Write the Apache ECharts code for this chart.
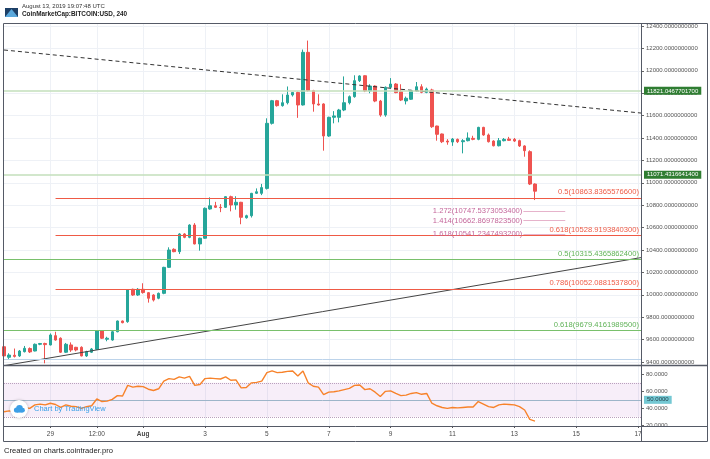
<!DOCTYPE html>
<html>
<head>
<meta charset="utf-8">
<title>CoinMarketCap:BITCOIN:USD, 240</title>
<script src="https://cdn.jsdelivr.net/npm/echarts@6/dist/echarts.min.js"></script>
<style>
html, body { margin: 0; padding: 0; background: #fff; }
#chart { width: 710px; height: 459px; }
</style>
</head>
<body>
<div id="chart"></div>
<script>
// 4h bars, first bar opens 2019-07-27 12:00 UTC
const firstBar = '2019-07-27 12:00';
const barHours = 4;

const open = [
  9536, 9442, 9460, 9454, 9492, 9520, 9498, 9558, 9565, 9552,
  9635, 9612, 9487, 9552, 9531, 9531, 9454, 9487, 9513, 9677,
  9603, 9596, 9670, 9766, 9760, 10049, 9998, 10049, 10019, 9998,
  9969, 10013, 10245, 10406, 10385, 10543, 10513, 10623, 10454, 10505,
  10766, 10795, 10781, 10781, 10876, 10802, 10826, 10688, 10706, 10906,
  10906, 10950, 11531, 11733, 11689, 11715, 11784, 11807, 11695, 12165,
  11823, 11704, 11704, 11418, 11585, 11585, 11650, 11715, 11769, 11912,
  11956, 11820, 11864, 11730, 11605, 11853, 11882, 11813, 11731, 11746,
  11823, 11858, 11808, 11829, 11507, 11436, 11373, 11364, 11388, 11367,
  11376, 11397, 11388, 11495, 11427, 11373, 11331, 11376, 11391, 11388,
  11376, 11329, 11278, 10989
];
const close = [
  9454, 9462, 9450, 9498, 9522, 9490, 9558, 9565, 9555, 9641,
  9596, 9487, 9558, 9507, 9507, 9454, 9492, 9516, 9677, 9612,
  9612, 9670, 9766, 9751, 10043, 9998, 10049, 10020, 9969, 9953,
  10013, 10245, 10400, 10385, 10543, 10513, 10623, 10454, 10505, 10772,
  10795, 10781, 10778, 10876, 10802, 10826, 10692, 10706, 10906, 10920,
  10957, 11531, 11733, 11689, 11715, 11784, 11807, 11695, 12165, 11823,
  11704, 11695, 11418, 11585, 11597, 11650, 11715, 11769, 11912, 11954,
  11820, 11864, 11730, 11605, 11853, 11882, 11805, 11739, 11755, 11823,
  11858, 11808, 11837, 11501, 11433, 11367, 11364, 11391, 11367, 11376,
  11400, 11388, 11495, 11427, 11367, 11331, 11376, 11388, 11379, 11373,
  11329, 11287, 10989, 10925
];
const low = [
  9440, 9427, 9440, 9445, 9485, 9480, 9495, 9550, 9388, 9548,
  9590, 9480, 9480, 9490, 9495, 9450, 9445, 9480, 9510, 9605,
  9585, 9590, 9665, 9745, 9750, 9990, 9990, 10010, 9930, 9940,
  9960, 10005, 10240, 10380, 10364, 10505, 10505, 10450, 10394, 10500,
  10760, 10775, 10738, 10775, 10745, 10760, 10630, 10680, 10690, 10900,
  10890, 10940, 11520, 11680, 11680, 11700, 11770, 11580, 11690, 11815,
  11635, 11690, 11287, 11410, 11531, 11540, 11640, 11700, 11760, 11900,
  11810, 11800, 11720, 11590, 11590, 11845, 11800, 11730, 11700, 11740,
  11815, 11800, 11800, 11490, 11376, 11355, 11340, 11330, 11355, 11263,
  11370, 11380, 11380, 11420, 11360, 11325, 11325, 11370, 11375, 11365,
  11320, 11233, 10980, 10846
];
const high = [
  9545, 9478, 9520, 9507, 9543, 9530, 9565, 9570, 9572, 9655,
  9670, 9620, 9570, 9575, 9535, 9540, 9500, 9525, 9680, 9680,
  9625, 9680, 9770, 9770, 10050, 10055, 10060, 10103, 10025, 10005,
  10020, 10250, 10424, 10415, 10550, 10550, 10630, 10640, 10510, 10780,
  10870, 10830, 10810, 10880, 10885, 10880, 10830, 10715, 10910, 10950,
  10990, 11576, 11740, 11740, 11790, 11860, 11810, 11815, 12190, 12270,
  11830, 11790, 11710, 11590, 11640, 11660, 11950, 11780, 11960, 11960,
  11960, 11880, 11870, 11740, 11860, 11935, 11890, 11880, 11770, 11830,
  11900, 11880, 11850, 11840, 11510, 11440, 11390, 11400, 11395, 11390,
  11450, 11420, 11500, 11500, 11440, 11380, 11400, 11400, 11410, 11400,
  11385, 11335, 11290, 10995
];
const rsi = [
  36, 37, 36, 39, 41, 40, 44, 45, 44, 46,
  44.5, 41, 44, 42.5, 42, 40, 42, 43, 51, 48,
  48.5, 50.5, 55, 54.5, 67, 65, 66, 65.5, 62.5, 61,
  63, 72, 75, 74, 77, 75.5, 77.5, 67, 68, 75,
  75.5, 75, 74.5, 77, 73, 73.5, 64, 64.5, 70, 70.5,
  72, 82, 84, 82, 82.5, 83.5, 84, 78, 84, 70,
  66, 65, 56, 59, 59.5, 60.5, 62, 63.5, 67, 67.5,
  62, 63, 59, 54, 60, 60.5, 57.5, 55, 55.5, 57.5,
  58.5, 56.5, 57.5, 46, 43, 41, 40, 41, 40.5, 41,
  41.5, 41.5, 48, 45, 42, 41, 44, 45, 44.5, 44,
  42, 38, 27, 25
];

const xTicks = ['2019-07-29 00:00', '2019-07-30 12:00', '2019-08-01 00:00', '2019-08-03 00:00',
  '2019-08-05 00:00', '2019-08-07 00:00', '2019-08-09 00:00', '2019-08-11 00:00',
  '2019-08-13 00:00', '2019-08-15 00:00', '2019-08-17 00:00'];
const xTickLabels = ['29', '12:00', 'Aug', '3', '5', '7', '9', '11', '13', '15', '17'];
const xStart = '2019-07-27 12:00';
const xEnd = '2019-08-17 02:17';
const priceTicks = [9400, 9600, 9800, 10000, 10200, 10400, 10600, 10800, 11000, 11200, 11400, 11600, 11800, 12000, 12200, 12400];
const rsiTicks = [20, 40, 60, 80];

// drawn levels
const fibRedRatio = ['0.5', '0.618', '0.786'];
const fibRedPrice = [10863.83655766, 10528.91938403, 10052.08815378];
const fibRedFrom = '2019-07-29 04:00';
const fibGreenRatio = ['0.5', '0.618'];
const fibGreenPrice = [10315.43658624, 9679.41619895];
const extRatio = ['1.272', '1.414', '1.618'];
const extPrice = [10747.53730534, 10662.86978235, 10541.23474932];
const extFrom = '2019-08-13 07:00';
const extTo = '2019-08-14 15:30';
const levelPrice = [11821.04677017, 11071.43166414];
const lastPrice = 10924.521325;
const baseLine = 9422;
const dashedTrend = [[xStart, 12186], [xEnd, 11623]];
const supportTrend = [[xStart, 9367], [xEnd, 10332]];

function ts(s) {
  const [d, t] = s.split(' ');
  const [Y, M, D] = d.split('-').map(Number);
  const [h, m] = t.split(':').map(Number);
  return Date.UTC(Y, M - 1, D, h, m);
}

const t0 = ts(firstBar);
const barTime = open.map((_, i) => t0 + i * barHours * 3600e3);
const candles = open.map((o, i) => [barTime[i], o, close[i], low[i], high[i]]);
const rsiData = rsi.map((v, i) => [barTime[i], v]);
const xTickVals = xTicks.map(ts);
const font = 'Liberation Sans, Arial, sans-serif';
const red = '#ef5a45';
const green = '#5fb257';
const pink = '#c4679b';

const priceLines = [];
fibRedPrice.forEach((p, i) => {
  priceLines.push([
    { coord: [ts(fibRedFrom), p], lineStyle: { color: red, width: 1.2, type: 'solid' },
      label: { show: true, position: 'insideEndTop', distance: 2, color: red, fontSize: 7.6, fontFamily: font,
        formatter: fibRedRatio[i] + '(' + p.toFixed(10) + ')' } },
    { coord: [ts(xEnd), p] }
  ]);
});
fibGreenPrice.forEach((p, i) => {
  priceLines.push({ yAxis: p, lineStyle: { color: '#79c06c', width: 1.2, type: 'solid' },
    label: { show: true, position: 'insideEndTop', distance: 2, color: green, fontSize: 7.6, fontFamily: font,
      formatter: fibGreenRatio[i] + '(' + p.toFixed(10) + ')' } });
});
extPrice.forEach((p, i) => {
  priceLines.push([
    { coord: [ts(extFrom), p], lineStyle: { color: '#e6b3cb', width: 1, type: 'solid' },
      label: { show: true, position: 'start', distance: 1, color: pink, fontSize: 7.6, fontFamily: font,
        formatter: extRatio[i] + '(' + p.toFixed(10) + ')' } },
    { coord: [ts(extTo), p] }
  ]);
});
levelPrice.forEach(p => {
  priceLines.push({ yAxis: p, lineStyle: { color: '#c3dfbb', width: 1.5, type: 'solid' },
    label: { show: true, position: 'end', distance: 3, color: '#fff', backgroundColor: '#2f7d32',
      padding: [1, 3, 1, 3], fontSize: 6, fontFamily: font, formatter: p.toFixed(10) } });
});
priceLines.push({ yAxis: lastPrice, lineStyle: { opacity: 0 },
  label: { show: true, position: 'end', distance: 3, color: '#fff', backgroundColor: '#f05a56',
    padding: [1, 3, 1, 3], fontSize: 6, fontFamily: font, formatter: lastPrice.toFixed(10) } });
priceLines.push({ yAxis: baseLine, lineStyle: { color: '#bcd3ea', width: 1, type: 'solid' }, label: { show: false } });

const xBase = {
  type: 'value', min: ts(xStart), max: ts(xEnd),
  axisLine: { show: false },
  axisTick: { show: false, customValues: xTickVals },
  splitLine: { show: true, lineStyle: { color: '#eef1f6', width: 1 } }
};

const chart = echarts.init(document.getElementById('chart'));
chart.setOption({
  animation: false,
  backgroundColor: '#fff',
  textStyle: { fontFamily: font },
  grid: [
    { left: 4, top: 23, width: 637, height: 342 },
    { left: 4, top: 366, width: 637, height: 60 }
  ],
  xAxis: [
    Object.assign({}, xBase, { gridIndex: 0, axisLabel: { show: false, customValues: xTickVals } }),
    Object.assign({}, xBase, {
      gridIndex: 1,
      axisTick: { show: true, length: 2, customValues: xTickVals, lineStyle: { color: '#555' } },
      axisLabel: {
        show: true, customValues: xTickVals, margin: 5, fontSize: 6.5, color: '#4a4a4a',
        formatter: v => {
          const k = xTickVals.indexOf(v);
          const s = k < 0 ? '' : xTickLabels[k];
          return s === 'Aug' ? '{b|Aug}' : s;
        },
        rich: { b: { fontWeight: 'bold', fontSize: 6.5, color: '#4a4a4a' } }
      }
    })
  ],
  yAxis: [
    {
      type: 'value', gridIndex: 0, position: 'right', min: 9373, max: 12427,
      axisLine: { show: false },
      axisTick: { show: true, length: 3, customValues: priceTicks, lineStyle: { color: '#666' } },
      axisLabel: { customValues: priceTicks, margin: 5, fontSize: 6, color: '#555', formatter: v => v.toFixed(10) },
      splitLine: { show: true, lineStyle: { color: '#eef1f6' } }
    },
    {
      type: 'value', gridIndex: 1, position: 'right', min: 19.2, max: 89.8,
      axisLine: { show: false },
      axisTick: { show: true, length: 3, customValues: rsiTicks, lineStyle: { color: '#666' } },
      axisLabel: { customValues: rsiTicks, margin: 5, fontSize: 6, color: '#555', formatter: v => v.toFixed(4) },
      splitLine: { show: false }
    }
  ],
  series: [
    {
      type: 'candlestick', xAxisIndex: 0, yAxisIndex: 0, data: candles,
      encode: { x: 0, y: [1, 2, 3, 4] }, barWidth: 3,
      itemStyle: { color: '#26a69a', color0: '#ef5350', borderColor: '#26a69a', borderColor0: '#ef5350', borderWidth: 1 },
      markLine: { silent: true, symbol: 'none', animation: false, data: priceLines }
    },
    {
      type: 'line', xAxisIndex: 0, yAxisIndex: 0, silent: true, symbol: 'none',
      data: dashedTrend.map(d => [ts(d[0]), d[1]]),
      lineStyle: { color: '#333', width: 1, type: [4, 3] }
    },
    {
      type: 'line', xAxisIndex: 0, yAxisIndex: 0, silent: true, symbol: 'none',
      data: supportTrend.map(d => [ts(d[0]), d[1]]),
      lineStyle: { color: '#444', width: 1 }
    },
    {
      type: 'line', xAxisIndex: 1, yAxisIndex: 1, silent: true, symbol: 'none',
      data: rsiData, lineStyle: { color: '#f7822a', width: 1.4 }, z: 5,
      markArea: { silent: true, itemStyle: { color: 'rgba(156, 39, 176, 0.08)' }, data: [[{ yAxis: 30 }, { yAxis: 70 }]] },
      markLine: {
        silent: true, symbol: 'none', animation: false,
        data: [
          { yAxis: 70, lineStyle: { color: '#b9a0bd', type: 'dotted', width: 1 }, label: { show: false } },
          { yAxis: 30, lineStyle: { color: '#b9a0bd', type: 'dotted', width: 1 }, label: { show: false } },
          { yAxis: 50, lineStyle: { color: '#9db5c9', type: 'solid', width: 1 },
            label: { show: true, position: 'end', distance: 3, color: '#1d3a44', backgroundColor: '#74c8d3',
              padding: [1, 3, 1, 3], fontSize: 6, fontFamily: font, formatter: '50.0000' } }
        ]
      }
    }
  ],
  graphic: [
    { type: 'rect', silent: true, z: 50, shape: { x: 3.5, y: 23.5, width: 704, height: 418 }, style: { fill: null, stroke: '#555a66', lineWidth: 1 } },
    { type: 'line', silent: true, z: 50, shape: { x1: 641.5, y1: 23, x2: 641.5, y2: 442 }, style: { stroke: '#555a66', lineWidth: 1 } },
    { type: 'line', silent: true, z: 50, shape: { x1: 3, y1: 365.5, x2: 708, y2: 365.5 }, style: { stroke: '#555a66', lineWidth: 1.5 } },
    { type: 'line', silent: true, z: 50, shape: { x1: 3, y1: 426.5, x2: 708, y2: 426.5 }, style: { stroke: '#555a66', lineWidth: 1 } },
    // header logo and titles
    { type: 'rect', silent: true, shape: { x: 5, y: 8, width: 13, height: 9 }, style: { fill: '#1d3f66' } },
    { type: 'polygon', silent: true, shape: { points: [[5, 17], [11.5, 9], [18, 17]] }, style: { fill: '#5aa8dc' } },
    { type: 'text', silent: true, left: 22, top: 3, style: { text: 'August 13, 2019 19:07:48 UTC', fontSize: 6, fill: '#333', fontFamily: font } },
    { type: 'text', silent: true, left: 22, top: 11, style: { text: 'CoinMarketCap:BITCOIN:USD, 240', fontSize: 6.4, fontWeight: 'bold', fill: '#222', fontFamily: font } },
    // footer
    { type: 'text', silent: true, left: 4, top: 447, style: { text: 'Created on charts.cointrader.pro', fontSize: 7.6, fill: '#222', fontFamily: font } },
    // watermark
    { type: 'circle', silent: true, z: 60, shape: { cx: 19, cy: 409, r: 9 }, style: { fill: '#fff', shadowBlur: 3, shadowColor: 'rgba(0,0,0,0.25)' } },
    { type: 'group', silent: true, z: 61, children: [
      { type: 'circle', z: 61, shape: { cx: 16.5, cy: 410, r: 2.6 }, style: { fill: '#3c9fe6' } },
      { type: 'circle', z: 61, shape: { cx: 19.5, cy: 408.3, r: 3.3 }, style: { fill: '#3c9fe6' } },
      { type: 'circle', z: 61, shape: { cx: 22.5, cy: 410.2, r: 2.4 }, style: { fill: '#3c9fe6' } },
      { type: 'rect', z: 61, shape: { x: 16.5, y: 410, width: 6, height: 2.6 }, style: { fill: '#3c9fe6' } }
    ] },
    { type: 'text', silent: true, z: 61, left: 34, top: 405, style: { text: 'Chart by TradingView', fontSize: 7.5, fill: '#3a9fe6', fontFamily: font } }
  ]
});
</script>
</body>
</html>
